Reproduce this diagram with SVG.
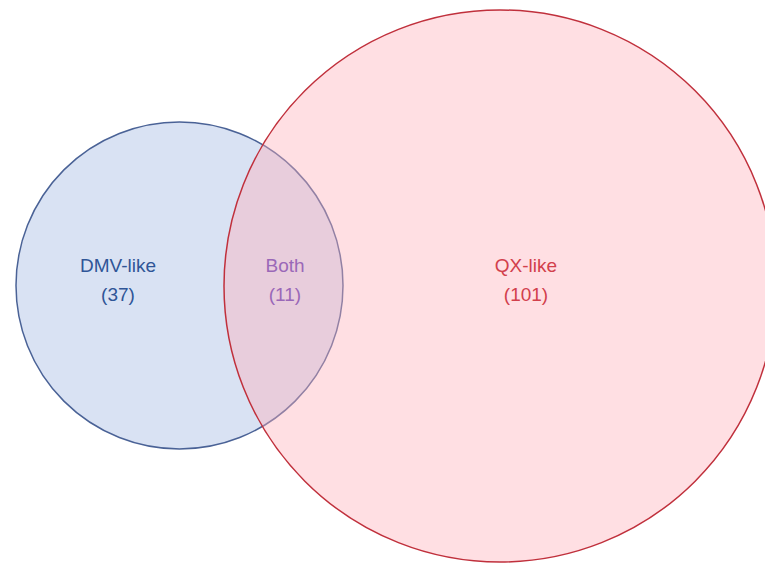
<svg xmlns="http://www.w3.org/2000/svg" width="765" height="565" viewBox="0 0 765 565">
<style>
text{font-family:"Liberation Sans","DejaVu Sans",sans-serif;font-size:19px;text-anchor:middle}
.b{fill:#2f5597}.r{fill:#d2404c}.p{fill:#9a68b8}
</style>
<rect width="765" height="565" fill="#ffffff"/>
<g id="dmv"><circle cx="179.5" cy="285.5" r="163.5" fill="#d9e2f3" stroke="#4a6296" stroke-width="1.5"/></g>
<g id="qx"><circle cx="500" cy="286" r="276" fill="#ffb0b8" fill-opacity="0.4" stroke="#c0303c" stroke-width="1.5"/></g>
<g id="labels">
<text class="b" x="118" y="272">DMV-like</text>
<text class="b" x="118" y="301">(37)</text>
<text class="p" x="285" y="272">Both</text>
<text class="p" x="285" y="301">(11)</text>
<text class="r" x="526" y="272">QX-like</text>
<text class="r" x="526" y="301">(101)</text>
</g>
<g id="connectors"/>
</svg>
